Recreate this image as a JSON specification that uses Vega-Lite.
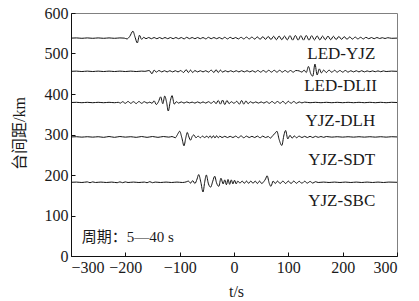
{
"$schema": "https://vega.github.io/schema/vega-lite/v6.json",
"width": 326, "height": 243,
"autosize": "none",
"padding": {"left": 71, "top": 13, "right": 22, "bottom": 45},
"background": "white",
"config": {
  "view": {"stroke": "#808080", "strokeWidth": 1},
  "axis": {"labelFont": "Liberation Serif", "titleFont": "Liberation Serif, Noto Sans CJK SC", "labelColor": "#1a1a1a", "titleColor": "#1a1a1a", "labelFontSize": 16, "titleFontSize": 16, "titleFontWeight": "normal", "domainColor": "#111", "tickColor": "#111", "grid": false}
},
"datasets": {
"w": [
{"s":"LED-YJZ","t":-300,"d":538},{"s":"LED-YJZ","t":-290,"d":538.5},{"s":"LED-YJZ","t":-280,"d":537.5},{"s":"LED-YJZ","t":-270,"d":538.5},{"s":"LED-YJZ","t":-260,"d":537.5},{"s":"LED-YJZ","t":-250,"d":538.5},{"s":"LED-YJZ","t":-240,"d":537.5},{"s":"LED-YJZ","t":-230,"d":538.5},{"s":"LED-YJZ","t":-220,"d":537.5},{"s":"LED-YJZ","t":-210,"d":538.5},{"s":"LED-YJZ","t":-202,"d":538},{"s":"LED-YJZ","t":-197,"d":536},{"s":"LED-YJZ","t":-192,"d":542},{"s":"LED-YJZ","t":-186,"d":555},{"s":"LED-YJZ","t":-182,"d":540},{"s":"LED-YJZ","t":-178,"d":526},{"s":"LED-YJZ","t":-174,"d":545},{"s":"LED-YJZ","t":-170,"d":535},{"s":"LED-YJZ","t":-166,"d":540},{"s":"LED-YJZ","t":-162,"d":536.5},{"s":"LED-YJZ","t":-157,"d":539.5},{"s":"LED-YJZ","t":-152,"d":536.5},{"s":"LED-YJZ","t":-147,"d":539.5},{"s":"LED-YJZ","t":-142,"d":536.5},{"s":"LED-YJZ","t":-137,"d":539.5},{"s":"LED-YJZ","t":-132,"d":536.5},{"s":"LED-YJZ","t":-127,"d":539.5},{"s":"LED-YJZ","t":-122,"d":536.5},{"s":"LED-YJZ","t":-117,"d":539.5},{"s":"LED-YJZ","t":-112,"d":536.5},{"s":"LED-YJZ","t":-107,"d":539.5},{"s":"LED-YJZ","t":-102,"d":536.5},{"s":"LED-YJZ","t":-97,"d":539.5},{"s":"LED-YJZ","t":-92,"d":536},{"s":"LED-YJZ","t":-87,"d":540},{"s":"LED-YJZ","t":-82,"d":536.5},{"s":"LED-YJZ","t":-77,"d":539.5},{"s":"LED-YJZ","t":-72,"d":536.5},{"s":"LED-YJZ","t":-67,"d":539.5},{"s":"LED-YJZ","t":-62,"d":536.5},{"s":"LED-YJZ","t":-57,"d":539.5},{"s":"LED-YJZ","t":-52,"d":536},{"s":"LED-YJZ","t":-47,"d":540},{"s":"LED-YJZ","t":-42,"d":536.5},{"s":"LED-YJZ","t":-37,"d":539.5},{"s":"LED-YJZ","t":-32,"d":536.5},{"s":"LED-YJZ","t":-27,"d":539.5},{"s":"LED-YJZ","t":-22,"d":536},{"s":"LED-YJZ","t":-17,"d":540},{"s":"LED-YJZ","t":-12,"d":536},{"s":"LED-YJZ","t":-7,"d":540},{"s":"LED-YJZ","t":-2,"d":536.5},{"s":"LED-YJZ","t":3,"d":539.5},{"s":"LED-YJZ","t":8,"d":536},{"s":"LED-YJZ","t":13,"d":540},{"s":"LED-YJZ","t":18,"d":536},{"s":"LED-YJZ","t":23,"d":540.5},{"s":"LED-YJZ","t":28,"d":536},{"s":"LED-YJZ","t":33,"d":540.5},{"s":"LED-YJZ","t":38,"d":535.5},{"s":"LED-YJZ","t":43,"d":541},{"s":"LED-YJZ","t":48,"d":535},{"s":"LED-YJZ","t":53,"d":541.5},{"s":"LED-YJZ","t":58,"d":535},{"s":"LED-YJZ","t":63,"d":542},{"s":"LED-YJZ","t":68,"d":534.5},{"s":"LED-YJZ","t":73,"d":542.5},{"s":"LED-YJZ","t":78,"d":534},{"s":"LED-YJZ","t":83,"d":543},{"s":"LED-YJZ","t":88,"d":534},{"s":"LED-YJZ","t":93,"d":543},{"s":"LED-YJZ","t":98,"d":533.5},{"s":"LED-YJZ","t":103,"d":544},{"s":"LED-YJZ","t":108,"d":533},{"s":"LED-YJZ","t":113,"d":544.5},{"s":"LED-YJZ","t":118,"d":533},{"s":"LED-YJZ","t":123,"d":544},{"s":"LED-YJZ","t":128,"d":533},{"s":"LED-YJZ","t":133,"d":544.5},{"s":"LED-YJZ","t":138,"d":533},{"s":"LED-YJZ","t":143,"d":544},{"s":"LED-YJZ","t":148,"d":533.5},{"s":"LED-YJZ","t":153,"d":543.5},{"s":"LED-YJZ","t":158,"d":533.5},{"s":"LED-YJZ","t":163,"d":543},{"s":"LED-YJZ","t":168,"d":534},{"s":"LED-YJZ","t":173,"d":543},{"s":"LED-YJZ","t":178,"d":534},{"s":"LED-YJZ","t":183,"d":542.5},{"s":"LED-YJZ","t":188,"d":534.5},{"s":"LED-YJZ","t":193,"d":542},{"s":"LED-YJZ","t":198,"d":535},{"s":"LED-YJZ","t":203,"d":541.5},{"s":"LED-YJZ","t":208,"d":535},{"s":"LED-YJZ","t":213,"d":541},{"s":"LED-YJZ","t":218,"d":535.5},{"s":"LED-YJZ","t":223,"d":540.5},{"s":"LED-YJZ","t":228,"d":536},{"s":"LED-YJZ","t":233,"d":540},{"s":"LED-YJZ","t":238,"d":536},{"s":"LED-YJZ","t":243,"d":540},{"s":"LED-YJZ","t":248,"d":536.5},{"s":"LED-YJZ","t":253,"d":539.5},{"s":"LED-YJZ","t":258,"d":536.5},{"s":"LED-YJZ","t":263,"d":539.5},{"s":"LED-YJZ","t":268,"d":537},{"s":"LED-YJZ","t":273,"d":539},{"s":"LED-YJZ","t":278,"d":537},{"s":"LED-YJZ","t":283,"d":539},{"s":"LED-YJZ","t":290,"d":537.5},{"s":"LED-YJZ","t":300,"d":538},

{"s":"LED-DLII","t":-300,"d":456},{"s":"LED-DLII","t":-290,"d":456.5},{"s":"LED-DLII","t":-280,"d":455.5},{"s":"LED-DLII","t":-270,"d":456.5},{"s":"LED-DLII","t":-260,"d":455.5},{"s":"LED-DLII","t":-250,"d":456.5},{"s":"LED-DLII","t":-240,"d":455.5},{"s":"LED-DLII","t":-230,"d":456.5},{"s":"LED-DLII","t":-220,"d":455.5},{"s":"LED-DLII","t":-210,"d":456.5},{"s":"LED-DLII","t":-200,"d":455.5},{"s":"LED-DLII","t":-190,"d":456.5},{"s":"LED-DLII","t":-180,"d":455.5},{"s":"LED-DLII","t":-170,"d":456.5},{"s":"LED-DLII","t":-164,"d":456},{"s":"LED-DLII","t":-160,"d":457},{"s":"LED-DLII","t":-156,"d":458},{"s":"LED-DLII","t":-151,"d":450},{"s":"LED-DLII","t":-147,"d":459},{"s":"LED-DLII","t":-143,"d":454},{"s":"LED-DLII","t":-138,"d":458},{"s":"LED-DLII","t":-133,"d":454.5},{"s":"LED-DLII","t":-128,"d":457.5},{"s":"LED-DLII","t":-123,"d":454.5},{"s":"LED-DLII","t":-118,"d":457.5},{"s":"LED-DLII","t":-113,"d":454.5},{"s":"LED-DLII","t":-108,"d":457.5},{"s":"LED-DLII","t":-103,"d":454.5},{"s":"LED-DLII","t":-98,"d":458},{"s":"LED-DLII","t":-93,"d":453},{"s":"LED-DLII","t":-88,"d":460},{"s":"LED-DLII","t":-84,"d":453},{"s":"LED-DLII","t":-80,"d":459},{"s":"LED-DLII","t":-76,"d":453},{"s":"LED-DLII","t":-72,"d":458},{"s":"LED-DLII","t":-67,"d":454.5},{"s":"LED-DLII","t":-62,"d":457.5},{"s":"LED-DLII","t":-57,"d":454.5},{"s":"LED-DLII","t":-52,"d":457.5},{"s":"LED-DLII","t":-47,"d":454},{"s":"LED-DLII","t":-42,"d":459},{"s":"LED-DLII","t":-37,"d":453},{"s":"LED-DLII","t":-33,"d":460},{"s":"LED-DLII","t":-29,"d":453},{"s":"LED-DLII","t":-25,"d":459},{"s":"LED-DLII","t":-21,"d":454},{"s":"LED-DLII","t":-16,"d":457.5},{"s":"LED-DLII","t":-11,"d":454.5},{"s":"LED-DLII","t":-6,"d":457.5},{"s":"LED-DLII","t":-1,"d":454.5},{"s":"LED-DLII","t":4,"d":457.5},{"s":"LED-DLII","t":9,"d":454.5},{"s":"LED-DLII","t":14,"d":457.5},{"s":"LED-DLII","t":19,"d":454.5},{"s":"LED-DLII","t":24,"d":457.5},{"s":"LED-DLII","t":29,"d":454.5},{"s":"LED-DLII","t":34,"d":457.5},{"s":"LED-DLII","t":39,"d":454},{"s":"LED-DLII","t":44,"d":458},{"s":"LED-DLII","t":49,"d":454},{"s":"LED-DLII","t":54,"d":458},{"s":"LED-DLII","t":59,"d":454},{"s":"LED-DLII","t":64,"d":458.5},{"s":"LED-DLII","t":69,"d":454},{"s":"LED-DLII","t":74,"d":458.5},{"s":"LED-DLII","t":79,"d":454},{"s":"LED-DLII","t":84,"d":458.5},{"s":"LED-DLII","t":89,"d":454},{"s":"LED-DLII","t":94,"d":458},{"s":"LED-DLII","t":99,"d":454},{"s":"LED-DLII","t":104,"d":458},{"s":"LED-DLII","t":109,"d":454},{"s":"LED-DLII","t":114,"d":458},{"s":"LED-DLII","t":120,"d":457},{"s":"LED-DLII","t":125,"d":454},{"s":"LED-DLII","t":129,"d":459},{"s":"LED-DLII","t":133,"d":453},{"s":"LED-DLII","t":137,"d":468},{"s":"LED-DLII","t":141,"d":451},{"s":"LED-DLII","t":145,"d":444},{"s":"LED-DLII","t":149,"d":474},{"s":"LED-DLII","t":153,"d":447},{"s":"LED-DLII","t":157,"d":462},{"s":"LED-DLII","t":161,"d":452},{"s":"LED-DLII","t":165,"d":459},{"s":"LED-DLII","t":170,"d":453},{"s":"LED-DLII","t":175,"d":459},{"s":"LED-DLII","t":180,"d":453.5},{"s":"LED-DLII","t":185,"d":458.5},{"s":"LED-DLII","t":190,"d":454},{"s":"LED-DLII","t":195,"d":458},{"s":"LED-DLII","t":200,"d":454},{"s":"LED-DLII","t":205,"d":458},{"s":"LED-DLII","t":210,"d":454},{"s":"LED-DLII","t":215,"d":457.5},{"s":"LED-DLII","t":220,"d":454.5},{"s":"LED-DLII","t":225,"d":457.5},{"s":"LED-DLII","t":230,"d":454.5},{"s":"LED-DLII","t":235,"d":457.5},{"s":"LED-DLII","t":240,"d":454.5},{"s":"LED-DLII","t":245,"d":457},{"s":"LED-DLII","t":250,"d":455},{"s":"LED-DLII","t":255,"d":457},{"s":"LED-DLII","t":260,"d":455},{"s":"LED-DLII","t":265,"d":457},{"s":"LED-DLII","t":270,"d":455},{"s":"LED-DLII","t":275,"d":457},{"s":"LED-DLII","t":280,"d":455.5},{"s":"LED-DLII","t":290,"d":456.5},{"s":"LED-DLII","t":300,"d":456},

{"s":"YJZ-DLH","t":-300,"d":379},{"s":"YJZ-DLH","t":-290,"d":379.5},{"s":"YJZ-DLH","t":-280,"d":378.5},{"s":"YJZ-DLH","t":-270,"d":379.5},{"s":"YJZ-DLH","t":-260,"d":378.5},{"s":"YJZ-DLH","t":-250,"d":379.5},{"s":"YJZ-DLH","t":-240,"d":378.5},{"s":"YJZ-DLH","t":-230,"d":379.5},{"s":"YJZ-DLH","t":-220,"d":378.5},{"s":"YJZ-DLH","t":-213,"d":379.5},{"s":"YJZ-DLH","t":-209,"d":377.5},{"s":"YJZ-DLH","t":-205,"d":381},{"s":"YJZ-DLH","t":-200,"d":377},{"s":"YJZ-DLH","t":-195,"d":381.5},{"s":"YJZ-DLH","t":-190,"d":377},{"s":"YJZ-DLH","t":-185,"d":381},{"s":"YJZ-DLH","t":-180,"d":376.5},{"s":"YJZ-DLH","t":-175,"d":381.5},{"s":"YJZ-DLH","t":-170,"d":377},{"s":"YJZ-DLH","t":-165,"d":381},{"s":"YJZ-DLH","t":-160,"d":377.5},{"s":"YJZ-DLH","t":-155,"d":380},{"s":"YJZ-DLH","t":-151,"d":377},{"s":"YJZ-DLH","t":-147,"d":383},{"s":"YJZ-DLH","t":-143,"d":374},{"s":"YJZ-DLH","t":-139,"d":381},{"s":"YJZ-DLH","t":-135,"d":393},{"s":"YJZ-DLH","t":-131,"d":376},{"s":"YJZ-DLH","t":-127.5,"d":395},{"s":"YJZ-DLH","t":-124,"d":379},{"s":"YJZ-DLH","t":-121,"d":358},{"s":"YJZ-DLH","t":-117,"d":384},{"s":"YJZ-DLH","t":-114,"d":396},{"s":"YJZ-DLH","t":-110,"d":375},{"s":"YJZ-DLH","t":-106,"d":381},{"s":"YJZ-DLH","t":-102,"d":377.5},{"s":"YJZ-DLH","t":-97,"d":380.5},{"s":"YJZ-DLH","t":-92,"d":377.5},{"s":"YJZ-DLH","t":-87,"d":380.5},{"s":"YJZ-DLH","t":-82,"d":378},{"s":"YJZ-DLH","t":-77,"d":380},{"s":"YJZ-DLH","t":-72,"d":377.5},{"s":"YJZ-DLH","t":-67,"d":380.5},{"s":"YJZ-DLH","t":-62,"d":377.5},{"s":"YJZ-DLH","t":-57,"d":380.5},{"s":"YJZ-DLH","t":-52,"d":377.5},{"s":"YJZ-DLH","t":-47,"d":381},{"s":"YJZ-DLH","t":-42,"d":377},{"s":"YJZ-DLH","t":-37,"d":382},{"s":"YJZ-DLH","t":-33,"d":376},{"s":"YJZ-DLH","t":-29,"d":384},{"s":"YJZ-DLH","t":-25,"d":375},{"s":"YJZ-DLH","t":-21,"d":385},{"s":"YJZ-DLH","t":-17,"d":374},{"s":"YJZ-DLH","t":-13,"d":384},{"s":"YJZ-DLH","t":-9,"d":376},{"s":"YJZ-DLH","t":-5,"d":381},{"s":"YJZ-DLH","t":0,"d":377},{"s":"YJZ-DLH","t":5,"d":382},{"s":"YJZ-DLH","t":10,"d":375},{"s":"YJZ-DLH","t":14,"d":384},{"s":"YJZ-DLH","t":18,"d":375},{"s":"YJZ-DLH","t":22,"d":383},{"s":"YJZ-DLH","t":26,"d":376},{"s":"YJZ-DLH","t":30,"d":381},{"s":"YJZ-DLH","t":35,"d":377.5},{"s":"YJZ-DLH","t":40,"d":380.5},{"s":"YJZ-DLH","t":45,"d":377.5},{"s":"YJZ-DLH","t":50,"d":380.5},{"s":"YJZ-DLH","t":55,"d":377.5},{"s":"YJZ-DLH","t":60,"d":381},{"s":"YJZ-DLH","t":65,"d":377},{"s":"YJZ-DLH","t":70,"d":381.5},{"s":"YJZ-DLH","t":75,"d":377},{"s":"YJZ-DLH","t":80,"d":381.5},{"s":"YJZ-DLH","t":85,"d":377},{"s":"YJZ-DLH","t":90,"d":382},{"s":"YJZ-DLH","t":95,"d":376},{"s":"YJZ-DLH","t":100,"d":382},{"s":"YJZ-DLH","t":105,"d":377},{"s":"YJZ-DLH","t":110,"d":381.5},{"s":"YJZ-DLH","t":115,"d":377},{"s":"YJZ-DLH","t":120,"d":380.5},{"s":"YJZ-DLH","t":125,"d":378},{"s":"YJZ-DLH","t":130,"d":380},{"s":"YJZ-DLH","t":140,"d":378.5},{"s":"YJZ-DLH","t":150,"d":379.5},{"s":"YJZ-DLH","t":160,"d":378.5},{"s":"YJZ-DLH","t":170,"d":379.5},{"s":"YJZ-DLH","t":180,"d":378.5},{"s":"YJZ-DLH","t":190,"d":379.5},{"s":"YJZ-DLH","t":200,"d":378.5},{"s":"YJZ-DLH","t":210,"d":379.5},{"s":"YJZ-DLH","t":220,"d":378.5},{"s":"YJZ-DLH","t":230,"d":379.5},{"s":"YJZ-DLH","t":240,"d":378.5},{"s":"YJZ-DLH","t":250,"d":379.5},{"s":"YJZ-DLH","t":260,"d":378.5},{"s":"YJZ-DLH","t":270,"d":379.5},{"s":"YJZ-DLH","t":280,"d":378.5},{"s":"YJZ-DLH","t":290,"d":379.5},{"s":"YJZ-DLH","t":300,"d":379},

{"s":"YJZ-SDT","t":-300,"d":294},{"s":"YJZ-SDT","t":-290,"d":294.5},{"s":"YJZ-SDT","t":-280,"d":293.5},{"s":"YJZ-SDT","t":-270,"d":294.5},{"s":"YJZ-SDT","t":-260,"d":293.5},{"s":"YJZ-SDT","t":-250,"d":294.5},{"s":"YJZ-SDT","t":-240,"d":293},{"s":"YJZ-SDT","t":-230,"d":295},{"s":"YJZ-SDT","t":-220,"d":293},{"s":"YJZ-SDT","t":-210,"d":295},{"s":"YJZ-SDT","t":-200,"d":293.5},{"s":"YJZ-SDT","t":-190,"d":294.5},{"s":"YJZ-SDT","t":-180,"d":293},{"s":"YJZ-SDT","t":-170,"d":295},{"s":"YJZ-SDT","t":-160,"d":293},{"s":"YJZ-SDT","t":-150,"d":295},{"s":"YJZ-SDT","t":-140,"d":293},{"s":"YJZ-SDT","t":-130,"d":295},{"s":"YJZ-SDT","t":-120,"d":293.5},{"s":"YJZ-SDT","t":-114,"d":295},{"s":"YJZ-SDT","t":-108,"d":292},{"s":"YJZ-SDT","t":-104,"d":300},{"s":"YJZ-SDT","t":-100,"d":308},{"s":"YJZ-SDT","t":-96,"d":292},{"s":"YJZ-SDT","t":-92,"d":272},{"s":"YJZ-SDT","t":-89,"d":290},{"s":"YJZ-SDT","t":-86,"d":305},{"s":"YJZ-SDT","t":-83,"d":294},{"s":"YJZ-SDT","t":-80,"d":286},{"s":"YJZ-SDT","t":-77,"d":295},{"s":"YJZ-SDT","t":-74,"d":299},{"s":"YJZ-SDT","t":-70,"d":292},{"s":"YJZ-SDT","t":-66,"d":296},{"s":"YJZ-SDT","t":-62,"d":292},{"s":"YJZ-SDT","t":-58,"d":296},{"s":"YJZ-SDT","t":-54,"d":292.5},{"s":"YJZ-SDT","t":-50,"d":296},{"s":"YJZ-SDT","t":-47,"d":292},{"s":"YJZ-SDT","t":-44,"d":297},{"s":"YJZ-SDT","t":-41,"d":291.5},{"s":"YJZ-SDT","t":-38,"d":297},{"s":"YJZ-SDT","t":-35,"d":291.5},{"s":"YJZ-SDT","t":-32,"d":297},{"s":"YJZ-SDT","t":-29,"d":292},{"s":"YJZ-SDT","t":-26,"d":296},{"s":"YJZ-SDT","t":-22,"d":292.5},{"s":"YJZ-SDT","t":-17,"d":295.5},{"s":"YJZ-SDT","t":-12,"d":292.5},{"s":"YJZ-SDT","t":-7,"d":295.5},{"s":"YJZ-SDT","t":-2,"d":292.5},{"s":"YJZ-SDT","t":3,"d":296},{"s":"YJZ-SDT","t":8,"d":292},{"s":"YJZ-SDT","t":13,"d":296.5},{"s":"YJZ-SDT","t":18,"d":292},{"s":"YJZ-SDT","t":23,"d":296},{"s":"YJZ-SDT","t":28,"d":292.5},{"s":"YJZ-SDT","t":33,"d":295.5},{"s":"YJZ-SDT","t":38,"d":292.5},{"s":"YJZ-SDT","t":43,"d":296},{"s":"YJZ-SDT","t":48,"d":292},{"s":"YJZ-SDT","t":53,"d":296},{"s":"YJZ-SDT","t":58,"d":292.5},{"s":"YJZ-SDT","t":63,"d":295},{"s":"YJZ-SDT","t":67,"d":291},{"s":"YJZ-SDT","t":71,"d":297},{"s":"YJZ-SDT","t":75,"d":302},{"s":"YJZ-SDT","t":79,"d":308},{"s":"YJZ-SDT","t":83,"d":288},{"s":"YJZ-SDT","t":88,"d":273},{"s":"YJZ-SDT","t":92,"d":299},{"s":"YJZ-SDT","t":95,"d":310},{"s":"YJZ-SDT","t":99,"d":289},{"s":"YJZ-SDT","t":103,"d":298},{"s":"YJZ-SDT","t":107,"d":291},{"s":"YJZ-SDT","t":111,"d":296.5},{"s":"YJZ-SDT","t":115,"d":292},{"s":"YJZ-SDT","t":120,"d":296},{"s":"YJZ-SDT","t":125,"d":292.5},{"s":"YJZ-SDT","t":130,"d":295.5},{"s":"YJZ-SDT","t":135,"d":292.5},{"s":"YJZ-SDT","t":140,"d":295.5},{"s":"YJZ-SDT","t":145,"d":292.5},{"s":"YJZ-SDT","t":150,"d":295.5},{"s":"YJZ-SDT","t":155,"d":293},{"s":"YJZ-SDT","t":160,"d":295},{"s":"YJZ-SDT","t":165,"d":293},{"s":"YJZ-SDT","t":170,"d":295},{"s":"YJZ-SDT","t":180,"d":293.5},{"s":"YJZ-SDT","t":190,"d":294.5},{"s":"YJZ-SDT","t":200,"d":293.5},{"s":"YJZ-SDT","t":210,"d":294.5},{"s":"YJZ-SDT","t":220,"d":293.5},{"s":"YJZ-SDT","t":230,"d":294.5},{"s":"YJZ-SDT","t":240,"d":293.5},{"s":"YJZ-SDT","t":250,"d":294.5},{"s":"YJZ-SDT","t":260,"d":293.5},{"s":"YJZ-SDT","t":270,"d":294.5},{"s":"YJZ-SDT","t":280,"d":293.5},{"s":"YJZ-SDT","t":290,"d":294.5},{"s":"YJZ-SDT","t":300,"d":294},

{"s":"YJZ-SBC","t":-300,"d":182},{"s":"YJZ-SBC","t":-290,"d":182.5},{"s":"YJZ-SBC","t":-280,"d":181.5},{"s":"YJZ-SBC","t":-270,"d":183},{"s":"YJZ-SBC","t":-265,"d":181},{"s":"YJZ-SBC","t":-260,"d":183},{"s":"YJZ-SBC","t":-255,"d":181.5},{"s":"YJZ-SBC","t":-245,"d":182.5},{"s":"YJZ-SBC","t":-235,"d":181.5},{"s":"YJZ-SBC","t":-225,"d":182.5},{"s":"YJZ-SBC","t":-215,"d":181},{"s":"YJZ-SBC","t":-210,"d":183},{"s":"YJZ-SBC","t":-205,"d":181},{"s":"YJZ-SBC","t":-200,"d":183},{"s":"YJZ-SBC","t":-195,"d":181.5},{"s":"YJZ-SBC","t":-185,"d":182.5},{"s":"YJZ-SBC","t":-175,"d":181.5},{"s":"YJZ-SBC","t":-165,"d":182.5},{"s":"YJZ-SBC","t":-160,"d":181},{"s":"YJZ-SBC","t":-155,"d":183.5},{"s":"YJZ-SBC","t":-150,"d":181},{"s":"YJZ-SBC","t":-145,"d":182.5},{"s":"YJZ-SBC","t":-135,"d":181.5},{"s":"YJZ-SBC","t":-125,"d":182.5},{"s":"YJZ-SBC","t":-115,"d":181.5},{"s":"YJZ-SBC","t":-105,"d":182.5},{"s":"YJZ-SBC","t":-95,"d":181.5},{"s":"YJZ-SBC","t":-88,"d":183},{"s":"YJZ-SBC","t":-84,"d":185},{"s":"YJZ-SBC","t":-80,"d":180},{"s":"YJZ-SBC","t":-76,"d":186},{"s":"YJZ-SBC","t":-72,"d":179},{"s":"YJZ-SBC","t":-68,"d":190},{"s":"YJZ-SBC","t":-65,"d":201},{"s":"YJZ-SBC","t":-61,"d":182},{"s":"YJZ-SBC","t":-57,"d":158},{"s":"YJZ-SBC","t":-54,"d":182},{"s":"YJZ-SBC","t":-51,"d":200},{"s":"YJZ-SBC","t":-47,"d":178},{"s":"YJZ-SBC","t":-43,"d":170},{"s":"YJZ-SBC","t":-39,"d":185},{"s":"YJZ-SBC","t":-35.5,"d":197},{"s":"YJZ-SBC","t":-32,"d":180},{"s":"YJZ-SBC","t":-28,"d":172},{"s":"YJZ-SBC","t":-24,"d":192},{"s":"YJZ-SBC","t":-20,"d":178},{"s":"YJZ-SBC","t":-17,"d":188},{"s":"YJZ-SBC","t":-14,"d":176},{"s":"YJZ-SBC","t":-11,"d":189},{"s":"YJZ-SBC","t":-8,"d":177},{"s":"YJZ-SBC","t":-5,"d":188},{"s":"YJZ-SBC","t":-2,"d":178},{"s":"YJZ-SBC","t":1,"d":187},{"s":"YJZ-SBC","t":4,"d":178},{"s":"YJZ-SBC","t":7,"d":185},{"s":"YJZ-SBC","t":11,"d":180},{"s":"YJZ-SBC","t":15,"d":185},{"s":"YJZ-SBC","t":19,"d":179.5},{"s":"YJZ-SBC","t":23,"d":185},{"s":"YJZ-SBC","t":27,"d":179.5},{"s":"YJZ-SBC","t":31,"d":185},{"s":"YJZ-SBC","t":35,"d":179.5},{"s":"YJZ-SBC","t":39,"d":185},{"s":"YJZ-SBC","t":43,"d":179},{"s":"YJZ-SBC","t":47,"d":185},{"s":"YJZ-SBC","t":51,"d":179},{"s":"YJZ-SBC","t":55,"d":184},{"s":"YJZ-SBC","t":58,"d":190},{"s":"YJZ-SBC","t":61,"d":198},{"s":"YJZ-SBC","t":65,"d":179},{"s":"YJZ-SBC","t":68,"d":172},{"s":"YJZ-SBC","t":72,"d":185},{"s":"YJZ-SBC","t":76,"d":179},{"s":"YJZ-SBC","t":80,"d":185},{"s":"YJZ-SBC","t":85,"d":179},{"s":"YJZ-SBC","t":90,"d":185},{"s":"YJZ-SBC","t":95,"d":179},{"s":"YJZ-SBC","t":100,"d":185},{"s":"YJZ-SBC","t":105,"d":179},{"s":"YJZ-SBC","t":110,"d":185},{"s":"YJZ-SBC","t":115,"d":179.5},{"s":"YJZ-SBC","t":120,"d":184.5},{"s":"YJZ-SBC","t":125,"d":179.5},{"s":"YJZ-SBC","t":130,"d":184.5},{"s":"YJZ-SBC","t":135,"d":180},{"s":"YJZ-SBC","t":140,"d":184},{"s":"YJZ-SBC","t":145,"d":180},{"s":"YJZ-SBC","t":150,"d":183.5},{"s":"YJZ-SBC","t":155,"d":181.5},{"s":"YJZ-SBC","t":165,"d":182.5},{"s":"YJZ-SBC","t":175,"d":181.5},{"s":"YJZ-SBC","t":185,"d":182.5},{"s":"YJZ-SBC","t":195,"d":181.5},{"s":"YJZ-SBC","t":205,"d":182.5},{"s":"YJZ-SBC","t":215,"d":181.5},{"s":"YJZ-SBC","t":225,"d":182.5},{"s":"YJZ-SBC","t":235,"d":181.5},{"s":"YJZ-SBC","t":245,"d":182.5},{"s":"YJZ-SBC","t":255,"d":181.5},{"s":"YJZ-SBC","t":265,"d":182.5},{"s":"YJZ-SBC","t":275,"d":181.5},{"s":"YJZ-SBC","t":285,"d":182.5},{"s":"YJZ-SBC","t":300,"d":182}
],
"labels": [
{"name":"LED-YJZ","t":260,"d":499},
{"name":"LED-DLII","t":263,"d":420},
{"name":"YJZ-DLH","t":260,"d":334},
{"name":"YJZ-SDT","t":260,"d":237},
{"name":"YJZ-SBC","t":260,"d":137}
],
"note": [{"txt":"周期：5—40 s","t":-280,"d":48}]
},
"layer": [
{
  "data": {"name": "w"},
  "mark": {"type": "line", "interpolate": "monotone", "color": "#111111", "strokeWidth": 1},
  "encoding": {
    "x": {"field": "t", "type": "quantitative", "scale": {"domain": [-300, 300], "nice": false},
      "axis": {"title": "t/s", "labelFont": "Liberation Serif", "labelFontSize": 16, "values": [-300,-200,-100,0,100,200,300], "tickSize": -4, "labelPadding": 7, "titleX": 165, "titleY": 35, "titleBaseline": "middle"}},
    "y": {"field": "d", "type": "quantitative", "scale": {"domain": [0, 600], "nice": false, "zero": false},
      "axis": {"title": "台间距/km", "labelFont": "Liberation Serif", "labelFontSize": 16, "values": [0,100,200,300,400,500,600], "tickSize": -4, "labelPadding": 7, "titleX": -52, "titleY": 120, "titleAngle": -90, "titleAlign": "center", "titleBaseline": "middle"}},
    "detail": {"field": "s", "type": "nominal"}
  }
},
{
  "data": {"name": "labels"},
  "mark": {"type": "text", "align": "right", "baseline": "middle", "font": "Liberation Serif", "fontSize": 17, "color": "#1a1a1a"},
  "encoding": {
    "x": {"field": "t", "type": "quantitative"},
    "y": {"field": "d", "type": "quantitative"},
    "text": {"field": "name"}
  }
},
{
  "data": {"name": "note"},
  "mark": {"type": "text", "align": "left", "baseline": "middle", "font": "Liberation Serif, Noto Sans CJK SC", "fontSize": 15, "color": "#1a1a1a"},
  "encoding": {
    "x": {"field": "t", "type": "quantitative"},
    "y": {"field": "d", "type": "quantitative"},
    "text": {"field": "txt"}
  }
}
]
}
